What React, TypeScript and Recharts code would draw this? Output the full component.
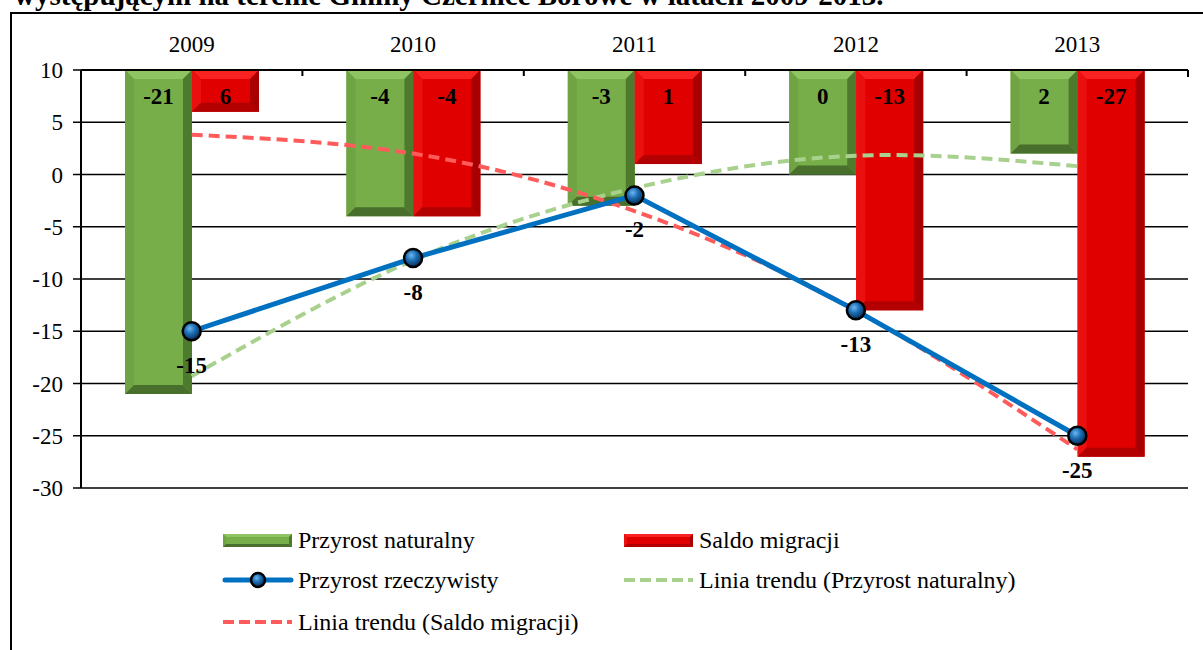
import React from "react";
import {
  ComposedChart,
  Bar,
  Line,
  XAxis,
  YAxis,
  CartesianGrid,
  LabelList,
  Legend,
} from "recharts";

const FONT = "'Liberation Serif', 'Times New Roman', serif";

// dane
const years = ["2009", "2010", "2011", "2012", "2013"];
const naturalIncrease = [-21, -4, -3, 0, 2];
const migrationBalance = [6, -4, 1, -13, -27];
const realIncrease = [-15, -8, -2, -13, -25];
const naturalTrend = [-19.3, -8.2, -1.3, 1.8, 0.8];
const migrationTrend = [3.8, 2.0, -3.5, -13.0, -26.3];
const yTicks = [-30, -25, -20, -15, -10, -5, 0, 5, 10];
const AXIS_TOP = 10;

const data = years.map((year, i) => ({
  year,
  natural: naturalIncrease[i],
  migration: migrationBalance[i],
  naturalBar: [AXIS_TOP, naturalIncrease[i]],
  migrationBar: [AXIS_TOP, migrationBalance[i]],
  real: realIncrease[i],
  naturalTrend: naturalTrend[i],
  migrationTrend: migrationTrend[i],
}));

const GREEN = { base: "#77AE4A", top: "#8FC463", left: "#6FA344", right: "#4E7A2E", bottom: "#496F2C" };
const RED = { base: "#E10000", top: "#F82222", left: "#EA1010", right: "#A80000", bottom: "#B30000" };

type Palette = typeof GREEN;

const bevel = (x: number, top: number, w: number, h: number, c: Palette, b: number) => (
  <g>
    <rect x={x} y={top} width={w} height={h} fill={c.base} />
    <polygon points={`${x},${top} ${x + w},${top} ${x + w - b},${top + b} ${x + b},${top + b}`} fill={c.top} />
    <polygon points={`${x},${top} ${x + b},${top + b} ${x + b},${top + h - b} ${x},${top + h}`} fill={c.left} />
    <polygon points={`${x + w},${top} ${x + w},${top + h} ${x + w - b},${top + h - b} ${x + w - b},${top + b}`} fill={c.right} />
    <polygon points={`${x},${top + h} ${x + b},${top + h - b} ${x + w - b},${top + h - b} ${x + w},${top + h}`} fill={c.bottom} />
  </g>
);

const makeBarShape = (c: Palette) => (props: any) => {
  const x = Number(props.x);
  const y = Number(props.y);
  const w = Number(props.width);
  const hh = Number(props.height);
  const top = Math.min(y, y + hh);
  const h = Math.abs(hh);
  const b = Math.min(9, w / 4, h / 3);
  return bevel(x, top, w, h, c, b);
};

const renderBarLabel = (props: any) => {
  const vb = props.viewBox || props;
  const x = Number(vb.x);
  const y = Number(vb.y);
  const w = Number(vb.width);
  const h = Number(vb.height);
  const top = Math.min(y, y + h);
  return (
    <text
      x={x + w / 2}
      y={top + 34}
      textAnchor="middle"
      fontFamily={FONT}
      fontSize={23}
      fontWeight="bold"
      fill="#000"
    >
      {props.value}
    </text>
  );
};

const renderLineLabel = (props: any) => (
  <text
    x={Number(props.x)}
    y={Number(props.y) + 42}
    textAnchor="middle"
    fontFamily={FONT}
    fontSize={23}
    fontWeight="bold"
    fill="#000"
  >
    {props.value}
  </text>
);

const renderDot = (props: any) => (
  <circle
    key={`dot-${props.index}`}
    cx={props.cx}
    cy={props.cy}
    r={9}
    fill="url(#ballGrad)"
    stroke="#000"
    strokeWidth={2.5}
  />
);

const YearTick = (props: any) => {
  const { x, y, payload, index, visibleTicksCount } = props;
  const half = payload.offset ?? 0;
  return (
    <g>
      <text x={x} y={y - 18} textAnchor="middle" fontFamily={FONT} fontSize={23} fill="#000">
        {payload.value}
      </text>
      {index > 0 && <line x1={x - half} x2={x - half} y1={y} y2={y + 6} stroke="#000" strokeWidth={2} />}
      {index === visibleTicksCount - 1 && (
        <line x1={x + half} x2={x + half} y1={y} y2={y + 7} stroke="#000" strokeWidth={2} />
      )}
    </g>
  );
};

const legendItems = [
  { name: "Przyrost naturalny", kind: "greenBar", col: 0, row: 0 },
  { name: "Saldo migracji", kind: "redBar", col: 1, row: 0 },
  { name: "Przyrost rzeczywisty", kind: "line", col: 0, row: 1 },
  { name: "Linia trendu (Przyrost naturalny)", kind: "greenDash", col: 1, row: 1 },
  { name: "Linia trendu (Saldo migracji)", kind: "redDash", col: 0, row: 2 },
];

const Swatch = ({ kind }: { kind: string }) => (
  <svg width={72} height={20} style={{ display: "block" }}>
    <defs>
      <radialGradient id="ballGradLegend" cx="40%" cy="35%" r="65%">
        <stop offset="0%" stopColor="#6DB6F0" />
        <stop offset="45%" stopColor="#1C6FB5" />
        <stop offset="100%" stopColor="#0A2C55" />
      </radialGradient>
    </defs>
    {kind === "greenBar" && bevel(1, 4, 69, 13, GREEN, 3)}
    {kind === "redBar" && bevel(1, 4, 69, 13, RED, 3)}
    {kind === "line" && (
      <g>
        <line x1={3} x2={69} y1={10} y2={10} stroke="#0070C0" strokeWidth={5} strokeLinecap="round" />
        <circle cx={36} cy={10} r={7} fill="url(#ballGradLegend)" stroke="#000" strokeWidth={2.5} />
      </g>
    )}
    {kind === "greenDash" && (
      <line x1={1} x2={70} y1={10} y2={10} stroke="#A9D18E" strokeWidth={4} strokeDasharray="11 5" />
    )}
    {kind === "redDash" && (
      <line x1={1} x2={70} y1={10} y2={10} stroke="#FF5B5B" strokeWidth={4} strokeDasharray="11 5" />
    )}
  </svg>
);

const LegendContent = () => (
  <div style={{ position: "relative", width: 1203, height: 120, fontFamily: FONT, fontSize: 24, color: "#000" }}>
    {legendItems.map((it) => (
      <div
        key={it.name}
        style={{
          position: "absolute",
          left: it.col === 0 ? 222 : 623,
          top: [5, 45, 87][it.row],
          height: 30,
          display: "flex",
          alignItems: "center",
          whiteSpace: "nowrap",
        }}
      >
        <Swatch kind={it.kind} />
        <span style={{ marginLeft: 4 }}>{it.name}</span>
      </div>
    ))}
  </div>
);

export default function App() {
  return (
    <div
      style={{
        position: "absolute",
        left: 0,
        top: 0,
        width: 1203,
        height: 650,
        overflow: "hidden",
        background: "#fff",
        fontFamily: FONT,
      }}
    >
      <div
        style={{
          position: "absolute",
          left: 14,
          top: -19,
          fontSize: 29,
          lineHeight: "29px",
          fontWeight: "bold",
          whiteSpace: "nowrap",
        }}
      >
        występującym na terenie Gminy Czernice Borowe w latach 2009-2013.
      </div>
      <div
        style={{
          position: "absolute",
          left: 10,
          top: 12,
          width: 1300,
          height: 800,
          border: "2px solid #000",
        }}
      />
      <div style={{ position: "absolute", left: 0, top: 0 }}>
        <ComposedChart
          width={1203}
          height={650}
          data={data}
          margin={{ top: 40, right: 15, left: 21, bottom: 162 }}
          barCategoryGap={44}
          barGap={0}
        >
          <defs>
            <radialGradient id="ballGrad" cx="40%" cy="35%" r="65%">
              <stop offset="0%" stopColor="#6DB6F0" />
              <stop offset="45%" stopColor="#1C6FB5" />
              <stop offset="100%" stopColor="#0A2C55" />
            </radialGradient>
          </defs>
          <CartesianGrid horizontal vertical={false} stroke="#000" strokeWidth={1.5} />
          <XAxis
            dataKey="year"
            orientation="top"
            height={30}
            tickSize={0}
            tickMargin={0}
            tickLine={false}
            axisLine={{ stroke: "#000", strokeWidth: 2 }}
            tick={<YearTick />}
            interval={0}
          />
          <YAxis
            type="number"
            domain={[-30, 10]}
            ticks={yTicks}
            width={60}
            allowDataOverflow
            axisLine={{ stroke: "#000", strokeWidth: 2 }}
            tickLine={{ stroke: "#000", strokeWidth: 1.5 }}
            tickSize={8}
            tickMargin={10}
            tick={{ fill: "#000", fontSize: 23, fontFamily: FONT }}
          />
          <Legend
            layout="horizontal"
            verticalAlign="middle"
            align="center"
            wrapperStyle={{ top: 520, left: 0, width: 1203 }}
            content={() => <LegendContent />}
          />
          <Bar
            name="Przyrost naturalny"
            dataKey="naturalBar"
            shape={makeBarShape(GREEN)}
            isAnimationActive={false}
          >
            <LabelList dataKey="natural" content={renderBarLabel} />
          </Bar>
          <Bar
            name="Saldo migracji"
            dataKey="migrationBar"
            shape={makeBarShape(RED)}
            isAnimationActive={false}
          >
            <LabelList dataKey="migration" content={renderBarLabel} />
          </Bar>
          <Line
            name="Linia trendu (Przyrost naturalny)"
            type="natural"
            dataKey="naturalTrend"
            stroke="#A9D18E"
            strokeWidth={4}
            strokeDasharray="11 6"
            dot={false}
            activeDot={false}
            isAnimationActive={false}
          />
          <Line
            name="Linia trendu (Saldo migracji)"
            type="natural"
            dataKey="migrationTrend"
            stroke="#FF5B5B"
            strokeWidth={4}
            strokeDasharray="11 6"
            dot={false}
            activeDot={false}
            isAnimationActive={false}
          />
          <Line
            name="Przyrost rzeczywisty"
            type="linear"
            dataKey="real"
            stroke="#0070C0"
            strokeWidth={5}
            dot={renderDot}
            activeDot={false}
            isAnimationActive={false}
          >
            <LabelList dataKey="real" content={renderLineLabel} />
          </Line>
        </ComposedChart>
      </div>
    </div>
  );
}
